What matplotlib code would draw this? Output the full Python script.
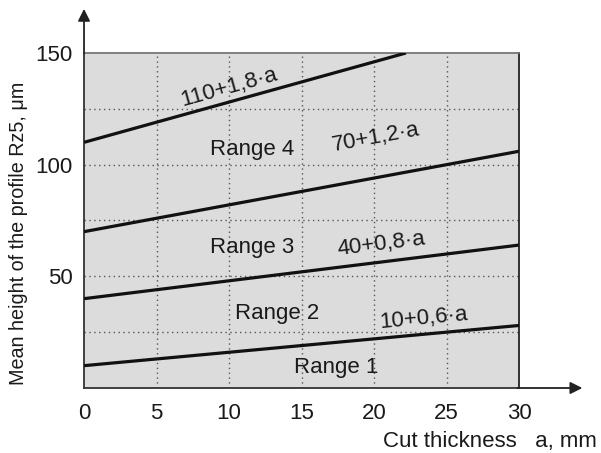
import matplotlib
matplotlib.use("Agg")
import matplotlib.pyplot as plt

plt.rcParams['font.family'] = ['Liberation Sans', 'DejaVu Sans']

# end points of the boundary lines
line_x = [[0, 30], [0, 30], [0, 30], [0, 22.2]]
line_y = [[10, 28], [40, 64], [70, 106], [110, 150]]

# formula labels: text, x, y, angle
formula_txt = ["10+0,6·a", "40+0,8·a", "70+1,2·a", "110+1,8·a"]
formula_x = [23.4, 20.5, 20.1, 10.0]
formula_y = [31, 64.5, 112, 134.5]
formula_rot = [5.3, 7, 10.5, 15.5]

range_txt = ["Range 1", "Range 2", "Range 3", "Range 4"]
range_x = [17.4, 13.3, 11.6, 11.6]
range_y = [9, 33.5, 63, 107]

xticks = [0, 5, 10, 15, 20, 25, 30]
yticks = [50, 100, 150]
grid_y = [25, 50, 75, 100, 125]
grid_x = [5, 10, 15, 20, 25]

fs = 16

fig = plt.figure(figsize=(6.01, 4.53), dpi=100)
ax = fig.add_axes([0.1398, 0.1435, 0.7238, 0.7395])
ax.set_facecolor('#dcdcdc')
ax.set_xlim(0, 30)
ax.set_ylim(0, 150)

for g in grid_y:
    ax.axhline(g, color='#555555', lw=1, ls=(0, (1, 2.5)), zorder=1)
for g in grid_x:
    ax.axvline(g, color='#555555', lw=1, ls=(0, (1, 2.5)), zorder=1)

for xs, ys in zip(line_x, line_y):
    ax.plot(xs, ys, color='#111111', lw=2.3, zorder=3, solid_capstyle='butt')

for t, x, y, r in zip(formula_txt, formula_x, formula_y, formula_rot):
    ax.text(x, y, t, ha='center', va='center', rotation=r, fontsize=fs,
            color='#1a1a1a', zorder=4)
for t, x, y in zip(range_txt, range_x, range_y):
    ax.text(x, y, t, ha='center', va='center', fontsize=fs, color='#1a1a1a', zorder=4)

ax.set_xticks(xticks)
ax.set_yticks(yticks)
ax.tick_params(length=0, labelsize=fs, labelcolor='#1a1a1a')
ax.tick_params(axis='x', pad=11)
ax.tick_params(axis='y', pad=8)

ax.spines['top'].set_color('#777777')
ax.spines['right'].set_color('#222222')
ax.spines['left'].set_color('#333333')
ax.spines['bottom'].set_color('#333333')
for s in ax.spines.values():
    s.set_linewidth(1.3)

# axis arrows
ax.annotate('', xy=(0, 1.14), xytext=(0, 0.99), xycoords='axes fraction',
            arrowprops=dict(arrowstyle='-|>', mutation_scale=18, color='#222222', lw=1.3),
            annotation_clip=False)
ax.annotate('', xy=(1.152, 0), xytext=(0.99, 0), xycoords='axes fraction',
            arrowprops=dict(arrowstyle='-|>', mutation_scale=18, color='#222222', lw=1.3),
            annotation_clip=False)

fig.text(19 / 601, 1 - 233 / 453, "Mean height of the profile Rz5, μm", rotation=90,
         ha='center', va='center', fontsize=14.2, color='#1a1a1a')
fig.text(597 / 601, 1 - 441 / 453, "Cut thickness   a, mm", ha='right', va='center',
         fontsize=fs, color='#1a1a1a')

fig.savefig('out.png', dpi=100)
